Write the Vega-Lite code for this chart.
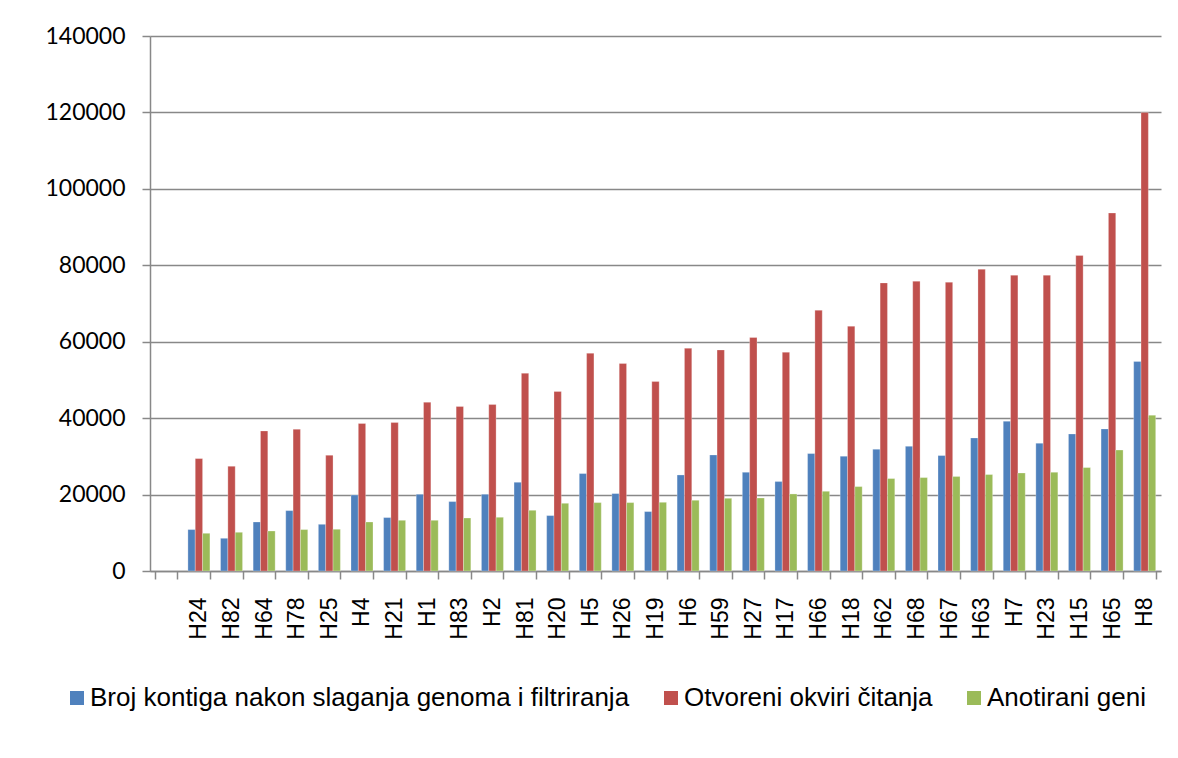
{
  "$schema": "https://vega.github.io/schema/vega-lite/v6.json",
  "width": 1011,
  "height": 535,
  "autosize": {"type": "none"},
  "padding": {"left": 150, "top": 36, "right": 17, "bottom": 187},
  "background": "white",
  "config": {
    "view": {"stroke": null},
    "axis": {"gridColor": "#888888", "gridWidth": 1.5, "domainColor": "#888888", "domainWidth": 1.5, "tickColor": "#888888", "tickWidth": 1.5, "labelColor": "#000000"}
  },
  "data": {
    "values": [
      {"k": "H24", "Broj kontiga nakon slaganja genoma i filtriranja": 10840, "Otvoreni okviri čitanja": 29420, "Anotirani geni": 9870},
      {"k": "H82", "Broj kontiga nakon slaganja genoma i filtriranja": 8560, "Otvoreni okviri čitanja": 27400, "Anotirani geni": 10130},
      {"k": "H64", "Broj kontiga nakon slaganja genoma i filtriranja": 12830, "Otvoreni okviri čitanja": 36650, "Anotirani geni": 10470},
      {"k": "H78", "Broj kontiga nakon slaganja genoma i filtriranja": 15800, "Otvoreni okviri čitanja": 37090, "Anotirani geni": 10840},
      {"k": "H25", "Broj kontiga nakon slaganja genoma i filtriranja": 12220, "Otvoreni okviri čitanja": 30290, "Anotirani geni": 10920},
      {"k": "H4", "Broj kontiga nakon slaganja genoma i filtriranja": 19900, "Otvoreni okviri čitanja": 38590, "Anotirani geni": 12830},
      {"k": "H21", "Broj kontiga nakon slaganja genoma i filtriranja": 13980, "Otvoreni okviri čitanja": 38850, "Anotirani geni": 13270},
      {"k": "H1", "Broj kontiga nakon slaganja genoma i filtriranja": 20080, "Otvoreni okviri čitanja": 44160, "Anotirani geni": 13270},
      {"k": "H83", "Broj kontiga nakon slaganja genoma i filtriranja": 18170, "Otvoreni okviri čitanja": 43040, "Anotirani geni": 13870},
      {"k": "H2", "Broj kontiga nakon slaganja genoma i filtriranja": 20080, "Otvoreni okviri čitanja": 43560, "Anotirani geni": 14060},
      {"k": "H81", "Broj kontiga nakon slaganja genoma i filtriranja": 23220, "Otvoreni okviri čitanja": 51750, "Anotirani geni": 15890},
      {"k": "H20", "Broj kontiga nakon slaganja genoma i filtriranja": 14500, "Otvoreni okviri čitanja": 46960, "Anotirani geni": 17720},
      {"k": "H5", "Broj kontiga nakon slaganja genoma i filtriranja": 25500, "Otvoreni okviri čitanja": 56990, "Anotirani geni": 17900},
      {"k": "H26", "Broj kontiga nakon slaganja genoma i filtriranja": 20260, "Otvoreni okviri čitanja": 54290, "Anotirani geni": 17900},
      {"k": "H19", "Broj kontiga nakon slaganja genoma i filtriranja": 15550, "Otvoreni okviri čitanja": 49580, "Anotirani geni": 17980},
      {"k": "H6", "Broj kontiga nakon slaganja genoma i filtriranja": 25130, "Otvoreni okviri čitanja": 58300, "Anotirani geni": 18510},
      {"k": "H59", "Broj kontiga nakon slaganja genoma i filtriranja": 30370, "Otvoreni okviri čitanja": 57850, "Anotirani geni": 19030},
      {"k": "H27", "Broj kontiga nakon slaganja genoma i filtriranja": 25840, "Otvoreni okviri čitanja": 61100, "Anotirani geni": 19110},
      {"k": "H17", "Broj kontiga nakon slaganja genoma i filtriranja": 23400, "Otvoreni okviri čitanja": 57250, "Anotirani geni": 20160},
      {"k": "H66", "Broj kontiga nakon slaganja genoma i filtriranja": 30730, "Otvoreni okviri čitanja": 68250, "Anotirani geni": 20860},
      {"k": "H18", "Broj kontiga nakon slaganja genoma i filtriranja": 30030, "Otvoreni okviri čitanja": 64060, "Anotirani geni": 22090},
      {"k": "H62", "Broj kontiga nakon slaganja genoma i filtriranja": 31860, "Otvoreni okviri čitanja": 75390, "Anotirani geni": 24190},
      {"k": "H68", "Broj kontiga nakon slaganja genoma i filtriranja": 32640, "Otvoreni okviri čitanja": 75840, "Anotirani geni": 24450},
      {"k": "H67", "Broj kontiga nakon slaganja genoma i filtriranja": 30210, "Otvoreni okviri čitanja": 75580, "Anotirani geni": 24710},
      {"k": "H63", "Broj kontiga nakon slaganja genoma i filtriranja": 34820, "Otvoreni okviri čitanja": 78980, "Anotirani geni": 25240},
      {"k": "H7", "Broj kontiga nakon slaganja genoma i filtriranja": 39190, "Otvoreni okviri čitanja": 77410, "Anotirani geni": 25650},
      {"k": "H23", "Broj kontiga nakon slaganja genoma i filtriranja": 33430, "Otvoreni okviri čitanja": 77410, "Anotirani geni": 25840},
      {"k": "H15", "Broj kontiga nakon slaganja genoma i filtriranja": 35860, "Otvoreni okviri čitanja": 82570, "Anotirani geni": 27070},
      {"k": "H65", "Broj kontiga nakon slaganja genoma i filtriranja": 37180, "Otvoreni okviri čitanja": 93690, "Anotirani geni": 31650},
      {"k": "H8", "Broj kontiga nakon slaganja genoma i filtriranja": 54850, "Otvoreni okviri čitanja": 120000, "Anotirani geni": 40780}
    ]
  },
  "transform": [
    {"fold": ["Broj kontiga nakon slaganja genoma i filtriranja", "Otvoreni okviri čitanja", "Anotirani geni"], "as": ["serie", "vrijednost"]}
  ],
  "mark": {"type": "bar", "stroke": "white", "strokeOpacity": 0.35, "strokeWidth": 0.8},
  "encoding": {
    "x": {
      "field": "k", "type": "nominal",
      "scale": {"domain": [" ", "H24", "H82", "H64", "H78", "H25", "H4", "H21", "H1", "H83", "H2", "H81", "H20", "H5", "H26", "H19", "H6", "H59", "H27", "H17", "H66", "H18", "H62", "H68", "H67", "H63", "H7", "H23", "H15", "H65", "H8"], "paddingInner": 0.325, "paddingOuter": 0.1625},
      "axis": {"title": null, "labelAngle": -90, "labelFont": "Liberation Sans", "labelFontSize": 23, "labelPadding": 18, "tickSize": 8, "tickBand": "extent", "grid": false, "labelBaseline": "middle"}
    },
    "xOffset": {
      "field": "serie", "type": "nominal",
      "scale": {"domain": ["Broj kontiga nakon slaganja genoma i filtriranja", "Otvoreni okviri čitanja", "Anotirani geni"]}
    },
    "y": {
      "field": "vrijednost", "type": "quantitative",
      "scale": {"domain": [0, 140000], "nice": false},
      "axis": {"title": null, "values": [0, 20000, 40000, 60000, 80000, 100000, 120000, 140000], "format": "d", "labelFont": "Lato", "labelFontSize": 23, "labelPadding": 17, "tickSize": 8, "grid": true}
    },
    "color": {
      "field": "serie", "type": "nominal",
      "scale": {"domain": ["Broj kontiga nakon slaganja genoma i filtriranja", "Otvoreni okviri čitanja", "Anotirani geni"], "range": ["#4F81BD", "#C0504D", "#9BBB59"]},
      "legend": {"title": null, "orient": "none", "direction": "horizontal", "legendX": -86, "legendY": 649, "symbolType": "square", "symbolSize": 196, "symbolStrokeWidth": 0, "labelFont": "Liberation Sans", "labelFontSize": 26, "labelColor": "#000000", "labelOffset": 0, "columnPadding": 28, "padding": 0, "labelLimit": 800}
    }
  }
}
